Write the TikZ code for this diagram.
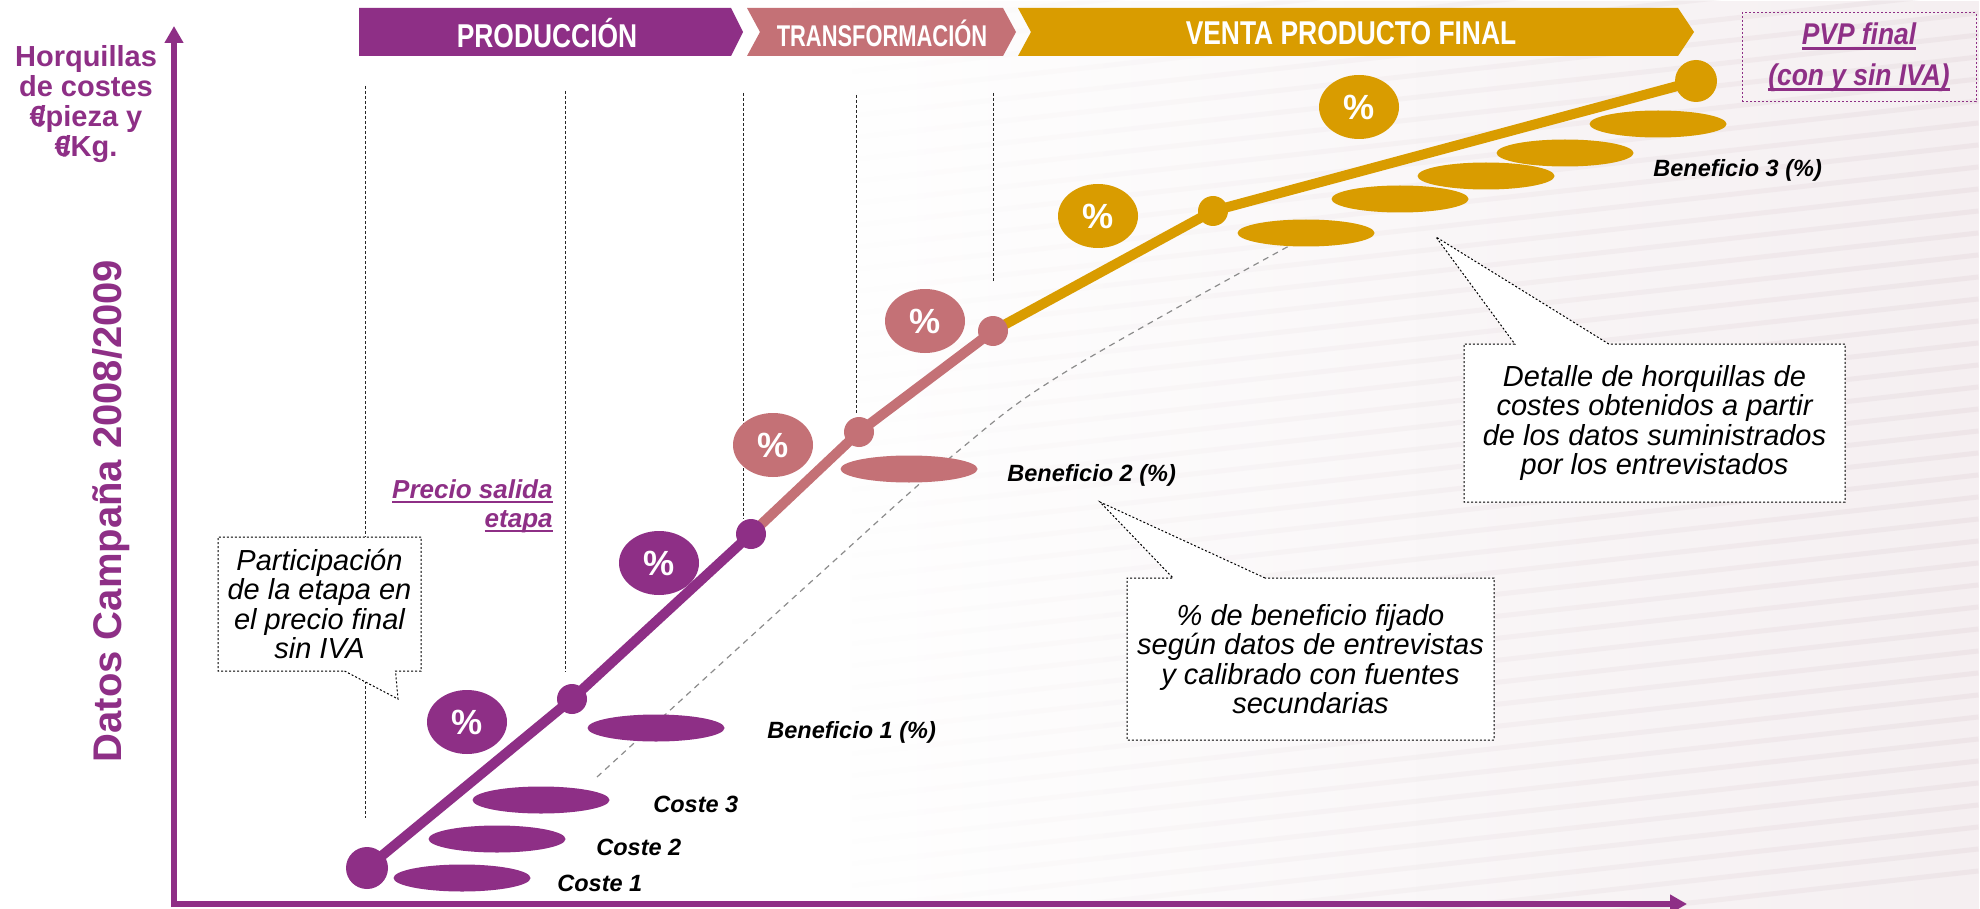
\documentclass[tikz,border=0pt]{standalone}
\usepackage{fontspec}
\setmainfont{Liberation Sans}
\newfontfamily\narrowfont{Liberation Sans}[FakeStretch=0.88]
\newfontfamily\hdrfont{Liberation Sans}[FakeStretch=0.8]
\newfontfamily\hdrtightfont{Liberation Sans}[FakeStretch=0.73]
\usetikzlibrary{shapes.geometric,shapes.callouts,fadings,arrows.meta}
\definecolor{cpurple}{RGB}{142,47,134}
\definecolor{cpink}{RGB}{196,113,118}
\definecolor{cgold}{RGB}{217,156,0}
\definecolor{stripe}{RGB}{224,210,215}
\definecolor{bgtint}{RGB}{245,239,241}
\newcommand{\myul}[1]{\setbox0\hbox{#1}\rlap{\rule[-2.6pt]{\wd0}{1.3pt}}\box0}
\pgfdeclarelayer{bgl}
\pgfdeclarelayer{behind}
\pgfsetlayers{bgl,behind,main}
\tikzfading[name=myfade, left color=transparent!100, right color=transparent!0]
\begin{document}
\begin{tikzpicture}[x=0.5pt,y=-0.5pt,
  pct/.style={ellipse, minimum width=40pt, minimum height=32pt, inner sep=0pt, text=white, font=\bfseries\fontsize{17.5}{17.5}\selectfont},
  bar/.style={ellipse, minimum width=68.5pt, minimum height=13.5pt, inner sep=0pt},
  bigdot/.style={circle, minimum size=21pt, inner sep=0pt},
  dot/.style={circle, minimum size=15pt, inner sep=0pt},
  seg/.style={line width=5pt, line join=round},
  guide/.style={black!85, line width=0.5pt, dash pattern=on 1.5pt off 1pt},
  trend/.style={black!45, line width=0.6pt, dash pattern=on 3pt off 2.5pt},
  lbl/.style={anchor=west, inner sep=0pt, font=\bfseries\itshape\fontsize{11.75}{12}\selectfont},
  hdr/.style={text=white, inner sep=0pt, font=\hdrfont\bfseries\fontsize{16.5}{16.5}\selectfont},
  axis/.style={cpurple, line width=2.8pt, -{Triangle[width=9pt,length=8.5pt]}},
  callbox/.style={rectangle callout, draw=black, fill=white, line width=0.5pt, dash pattern=on 1pt off 1pt, align=center, inner sep=0pt, font=\itshape\fontsize{14.5}{14.75}\selectfont}
]
\useasboundingbox (0,0) rectangle (1980,909);

% background
\begin{pgfonlayer}{bgl}
\fill[white] (0,0) rectangle (1980,909);
\fill[bgtint, path fading=myfade] (850,0) rectangle (1980,909);
\foreach \k in {0,...,48} {
  \draw[stripe, line width=2.5pt, opacity=0.32, path fading=myfade] (850,{\k*22-60}) -- (1980,{\k*22-185});
}
\end{pgfonlayer}

% header chevrons
\fill[cpurple] (359,8) -- (731,8) -- (743,32) -- (731,56) -- (359,56) -- cycle;
\fill[cpink] (747,8) -- (1003,8) -- (1016,32) -- (1003,56) -- (747,56) -- (760,32) -- cycle;
\fill[cgold] (1018,8) -- (1678,8) -- (1694,32) -- (1678,56) -- (1018,56) -- (1031,32) -- cycle;
\node[hdr] (h1) at (547,33) {PRODUCCIÓN};
\node[hdr, font=\hdrtightfont\bfseries\fontsize{15}{15}\selectfont] (h2) at (882,33) {TRANSFORMACIÓN};
\node[hdr] (h3) at (1351,33) {VENTA PRODUCTO FINAL};

% axes
\coordinate (ybot) at (174,907);
\coordinate (ytip) at (174,26);
\coordinate (xleft) at (171,904);
\coordinate (xtip) at (1687,904);
\draw[axis] (ybot) -- (ytip);
\draw[axis] (xleft) -- (xtip);

% axis labels
\node[inner sep=0pt, align=center, text=cpurple, font=\bfseries\fontsize{14.5}{15}\selectfont] (ylab) at (86,104.5)
  {Horquillas\\de costes\\€\kern-0.28em/pieza y\\€\kern-0.28em/Kg.};
\node[rotate=90, inner sep=0pt, text=cpurple, font=\bfseries\fontsize{20}{20}\selectfont] (dlab) at (111,511) {Datos Campaña 2008/2009};

% vertical guides
\coordinate (g1t) at (365,86);  \coordinate (g1b) at (365,818);
\coordinate (g2t) at (565,91);  \coordinate (g2b) at (565,672);
\coordinate (g3t) at (743,93);  \coordinate (g3b) at (743,519);
\coordinate (g4t) at (856,95);  \coordinate (g4b) at (856,415);
\coordinate (g5t) at (993,93);  \coordinate (g5b) at (993,282);
\draw[guide] (g1t) -- (g1b);
\draw[guide] (g2t) -- (g2b);
\draw[guide] (g3t) -- (g3b);
\draw[guide] (g4t) -- (g4b);
\draw[guide] (g5t) -- (g5b);

% trend line
\draw[trend] plot[smooth, tension=0.6] coordinates {(597,777) (813,580) (957,452) (1067,371) (1300,240)};

% price points
\node[bigdot, fill=cpurple] (p0) at (367,868) {};
\node[dot, fill=cpurple] (p1) at (572,699) {};
\node[dot, fill=cpurple] (p2) at (751,534) {};
\node[dot, fill=cpink] (p3) at (859,432) {};
\node[dot, fill=cpink] (p4) at (993,331) {};
\node[dot, fill=cgold] (p5) at (1213,211) {};
\node[bigdot, fill=cgold] (p6) at (1696,81) {};
\begin{pgfonlayer}{behind}
\draw[seg, cpurple] (p0.center) -- (p1.center) -- (p2.center);
\draw[seg, cpink] (p2.center) -- (p3.center) -- (p4.center);
\draw[seg, cgold] (p4.center) -- (p5.center) -- (p6.center);
\end{pgfonlayer}

% percentage ellipses
\node[pct, fill=cpurple] (e1) at (467,722) {\%};
\node[pct, fill=cpurple] (e2) at (659,563) {\%};
\node[pct, fill=cpink] (e3) at (773,445) {\%};
\node[pct, fill=cpink] (e4) at (925,321) {\%};
\node[pct, fill=cgold] (e5) at (1098,216) {\%};
\node[pct, fill=cgold] (e6) at (1359,107) {\%};

% cost / profit bars
\node[bar, fill=cpurple] (c1) at (462,878) {};
\node[bar, fill=cpurple] (c2) at (497,839) {};
\node[bar, fill=cpurple] (c3) at (541,800) {};
\node[bar, fill=cpurple] (b1) at (656,728) {};
\node[bar, fill=cpink] (b2) at (909,469) {};
\node[bar, fill=cgold] (b3a) at (1306,233) {};
\node[bar, fill=cgold] (b3b) at (1400,199) {};
\node[bar, fill=cgold] (b3c) at (1486,176) {};
\node[bar, fill=cgold] (b3d) at (1565,153) {};
\node[bar, fill=cgold] (b3e) at (1658,124) {};

% labels
\node[lbl] (lc1) at (557,883) {Coste 1};
\node[lbl] (lc2) at (596,847) {Coste 2};
\node[lbl] (lc3) at (653,804) {Coste 3};
\node[lbl] (lb1) at (767,732) {Beneficio 1 (\%)};
\node[lbl] (lb2) at (1007,475) {Beneficio 2 (\%)};
\node[lbl] (lb3) at (1653,170) {Beneficio 3 (\%)};

\node[anchor=east, inner sep=0pt, align=right, text=cpurple, font=\bfseries\itshape\fontsize{13}{14.5}\selectfont] (ps) at (553,506)
  {\myul{Precio salida}\\\myul{etapa}};

\node[draw=cpurple, line width=0.5pt, dash pattern=on 1pt off 1pt, minimum width=117pt, minimum height=44.5pt, inner sep=0pt,
  align=center, text=cpurple, font=\narrowfont\bfseries\itshape\fontsize{15}{20.5}\selectfont] (pvp) at (1859,57.5)
  {\myul{PVP final}\\\myul{(con y sin IVA)}};

% callouts
\node[callbox, minimum width=101.5pt, minimum height=67pt, callout absolute pointer={(398,699)}, callout pointer width=25.5pt] (k1) at (319.5,604)
  {Participación\\de la etapa en\\el precio final\\sin IVA};
\node[callbox, minimum width=183.5pt, minimum height=81pt, callout absolute pointer={(1100,502)}, callout pointer width=46pt] (k2) at (1310.5,659)
  {\% de beneficio fijado\\según datos de entrevistas\\y calibrado con fuentes\\secundarias};
\node[callbox, minimum width=190.5pt, minimum height=79pt, callout absolute pointer={(1436,237)}, callout pointer width=47pt] (k3) at (1654.5,423)
  {Detalle de horquillas de\\costes obtenidos a partir\\de los datos suministrados\\por los entrevistados};
\end{tikzpicture}
\end{document}
